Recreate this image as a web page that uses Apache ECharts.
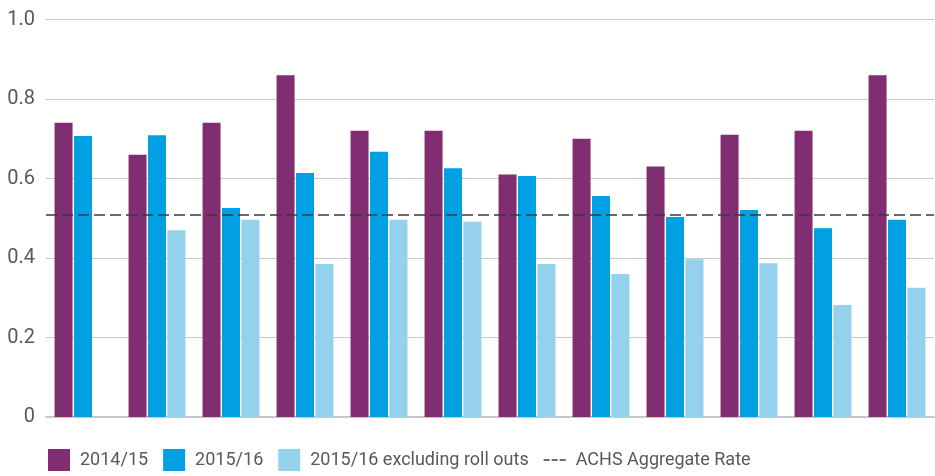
<!DOCTYPE html>
<html>
<head>
<meta charset="utf-8">
<script src="https://cdn.jsdelivr.net/npm/echarts@6/dist/echarts.min.js"></script>
<style>
html,body{margin:0;padding:0;background:#fff;}
#chart{width:935px;height:476px;}
</style>
</head>
<body>
<div id="chart"></div>
<script>
var categories = ['1','2','3','4','5','6','7','8','9','10','11','12'];
var series2014 = [0.74, 0.66, 0.74, 0.86, 0.72, 0.72, 0.61, 0.70, 0.63, 0.71, 0.72, 0.86];
var series2015 = [0.707, 0.709, 0.526, 0.614, 0.667, 0.626, 0.606, 0.556, 0.503, 0.521, 0.475, 0.496];
var series2015ex = [null, 0.470, 0.496, 0.385, 0.496, 0.491, 0.385, 0.360, 0.397, 0.387, 0.282, 0.325];
var aggregateRate = 0.507;
var seriesNames = ['2014/15', '2015/16', '2015/16 excluding roll outs', 'ACHS Aggregate Rate'];
var yTicks = { min: 0, max: 1, interval: 0.2 };

var chart = echarts.init(document.getElementById('chart'), null, { renderer: 'canvas' });
var textColor = '#595959';
var dashIcon = 'path://M0,10.2h6v1.6h-6z M8,10.2h6v1.6h-6z M16,10.2h6v1.6h-6z M0,0h0.001v0.001h-0.001z M21.999,21.999h0.001v0.001h-0.001z';
var option = {
  animation: false,
  grid: { left: 46, right: 1, top: 19.5, bottom: 59 },
  legend: {
    left: 48, top: 449, padding: 0,
    itemWidth: 22, itemHeight: 22, itemGap: 15,
    textStyle: { fontFamily: 'Roboto', fontSize: 18, color: textColor, padding: [0, 0, 0, 5] },
    data: [
      { name: seriesNames[0], icon: 'rect' },
      { name: seriesNames[1], icon: 'rect' },
      { name: seriesNames[2], icon: 'rect' },
      { name: seriesNames[3], icon: dashIcon, itemStyle: { color: '#404040' } }
    ]
  },
  xAxis: {
    type: 'category', data: categories,
    axisLine: { show: true, lineStyle: { color: '#C8C8C8', width: 2 } },
    axisTick: { show: false }, axisLabel: { show: false }
  },
  yAxis: {
    type: 'value', min: yTicks.min, max: yTicks.max, interval: yTicks.interval,
    axisLine: { show: false }, axisTick: { show: false },
    splitLine: { lineStyle: { color: '#C8C8C8', width: 1 } },
    axisLabel: {
      fontFamily: 'Roboto', fontSize: 20, color: textColor, margin: 11,
      formatter: function (v) { return v === 0 ? '0' : v.toFixed(1); }
    }
  },
  series: [
    { name: seriesNames[0], type: 'bar', data: series2014, barWidth: 18, barGap: '8%', itemStyle: { color: '#812D71' } },
    { name: seriesNames[1], type: 'bar', data: series2015, barWidth: 18, barGap: '8%', itemStyle: { color: '#00A0E2' } },
    { name: seriesNames[2], type: 'bar', data: series2015ex, barWidth: 18, barGap: '8%', itemStyle: { color: '#93D1EC' } },
    {
      name: seriesNames[3], type: 'line', data: [], symbol: 'none',
      lineStyle: { color: '#404040', width: 1.5, type: [6, 2] },
      itemStyle: { color: '#404040' },
      markLine: {
        silent: true, symbol: 'none', animation: false,
        label: { show: false },
        lineStyle: { color: '#3A3A3A', width: 1.5, type: [11, 5] },
        data: [{ yAxis: aggregateRate }]
      }
    }
  ]
};
chart.setOption(option);
</script>
</body>
</html>
